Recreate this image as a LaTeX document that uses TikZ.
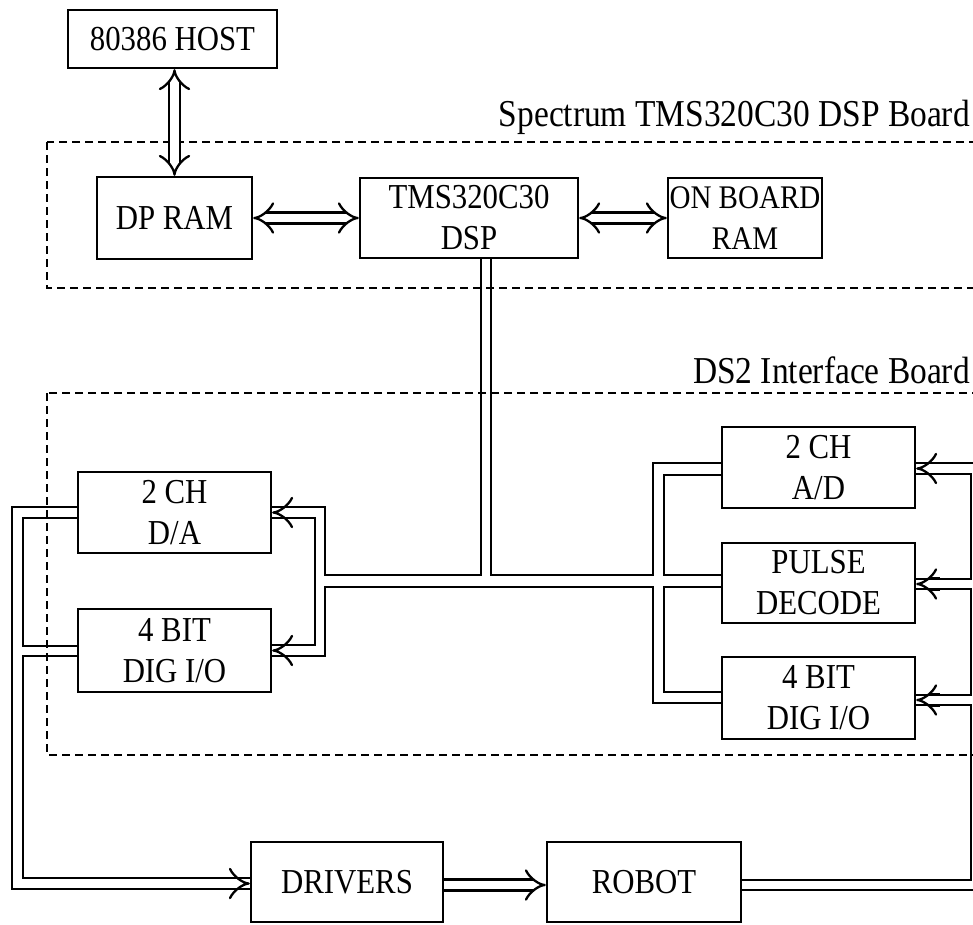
\documentclass[tikz,border=0pt]{standalone}
\usepackage{fontspec}
\setmainfont{Liberation Serif}[FakeStretch=0.88]
\usetikzlibrary{arrows.meta,calc}
\begin{document}
\begin{tikzpicture}[x=1pt,y=-1pt,
  box/.style={draw, line width=2.3pt, inner sep=0pt, align=center, font=\fontsize{35}{41}\selectfont},
  ln/.style={line width=2.3pt},
  dbl/.style={line width=2.3pt, double, double distance=8.7pt},
  tipI/.style={-{Implies[line width=2.6pt]}},
  tipII/.style={{Implies[line width=2.6pt]}-{Implies[line width=2.6pt]}},
  bdash/.style={line width=2.4pt, dash pattern=on 8pt off 5pt},
  lbl/.style={font=\fontsize{38}{40}\selectfont, anchor=east, inner sep=0pt}]
\useasboundingbox (0,0) rectangle (973,924);
\begin{scope}
\clip (0,0) rectangle (973,924);
% boards
\draw[bdash] (47,142) rectangle (990,288);
\draw[bdash] (47,393) rectangle (990,755);
\node[lbl] (lab1) at (970,117) {Spectrum TMS320C30 DSP Board};
\node[lbl] (lab2) at (970,370) {DS2 Interface Board};
% boxes
\node[box, minimum width=209pt, minimum height=58pt] (host) at (172.5,39) {80386 HOST};
\node[box, minimum width=155pt, minimum height=82pt] (dpram) at (174.5,218) {DP RAM};
\node[box, minimum width=218pt, minimum height=80pt] (dsp) at (469,218) {TMS320C30\\DSP};
\node[box, minimum width=154pt, minimum height=80pt, font=\fontsize{33}{41}\selectfont] (obram) at (745,218) {ON BOARD\\RAM};
\node[box, minimum width=193pt, minimum height=81pt] (da) at (174.5,512.5) {2 CH\\D/A};
\node[box, minimum width=193pt, minimum height=83pt] (dioL) at (174.5,650.5) {4 BIT\\DIG I/O};
\node[box, minimum width=193pt, minimum height=81pt] (ad) at (818.5,467.5) {2 CH\\A/D};
\node[box, minimum width=193pt, minimum height=80pt] (pulse) at (818.5,583) {PULSE\\DECODE};
\node[box, minimum width=193pt, minimum height=82pt] (dioR) at (818.5,698) {4 BIT\\DIG I/O};
\node[box, minimum width=192pt, minimum height=80pt] (drivers) at (347,882) {DRIVERS};
\node[box, minimum width=194pt, minimum height=80pt] (robot) at (644,882) {ROBOT};
% straight double arrows
\draw[dbl, tipII] (host.south -| dpram.north) -- (dpram.north);
\draw[dbl, tipII] (dpram.east) -- (dsp.west);
\draw[dbl, tipII] (dsp.east) -- (obram.west);
\draw[dbl, tipI] ([yshift=-3pt]drivers.east) -- ([yshift=-3pt]robot.west);
% DSP bus
\draw[ln] ([xshift=12pt]dsp.south) |- (325,575) |- ([yshift=5.5pt]da.east);
\draw[ln] ([xshift=22pt]dsp.south) |- (653,575) |- ([yshift=4.5pt]ad.west);
\draw[ln] ([yshift=-5.5pt]da.east) -| (315,645) -- ([yshift=5.5pt]dioL.east);
\draw[ln] ([yshift=-5.5pt]dioL.east) -| (325,587) -- (653,587) |- ([yshift=-5pt]dioR.west);
\draw[ln] ([yshift=-7.5pt]ad.west) -| (664,575) -- ([yshift=8pt]pulse.west);
\draw[ln] ([yshift=-4pt]pulse.west) -| (664,692) -- ([yshift=6pt]dioR.west);
% left outputs to drivers
\draw[ln] ([yshift=5.5pt]da.west) -| (12,889) -- ([yshift=-7pt]drivers.west);
\draw[ln] ([yshift=-5.5pt]da.west) -| (23,646) -- ([yshift=4.5pt]dioL.west);
\draw[ln] ([yshift=-5.5pt]dioL.west) -| (23,878) -- ([yshift=4pt]drivers.west);
% robot feedback
\draw[ln] ([yshift=2pt]robot.east) -| (971,705) -- ([yshift=-7pt]dioR.east);
\draw[ln] ([yshift=-8pt]robot.east) -| (982,463) -- ([yshift=4.5pt]ad.east);
\draw[ln] ([yshift=-6.5pt]ad.east) -| (971,579) -- ([yshift=4pt]pulse.east);
\draw[ln] ([yshift=-6pt]pulse.east) -| (971,695) -- ([yshift=3pt]dioR.east);
% arrow heads
\draw[dbl, tipI] ([xshift=24pt]da.east) -- (da.east);
\draw[dbl, tipI] ([xshift=24pt]dioL.east) -- (dioL.east);
\draw[dbl, tipI] ([xshift=-40pt,yshift=-1.5pt]drivers.west) -- ([yshift=-1.5pt]drivers.west);
\draw[dbl, tipI] ([xshift=24pt,yshift=-1pt]ad.east) -- ([yshift=-1pt]ad.east);
\draw[dbl, tipI] ([xshift=24pt,yshift=-1pt]pulse.east) -- ([yshift=-1pt]pulse.east);
\draw[dbl, tipI] ([xshift=24pt,yshift=-2pt]dioR.east) -- ([yshift=-2pt]dioR.east);
\end{scope}
\end{tikzpicture}
\end{document}
